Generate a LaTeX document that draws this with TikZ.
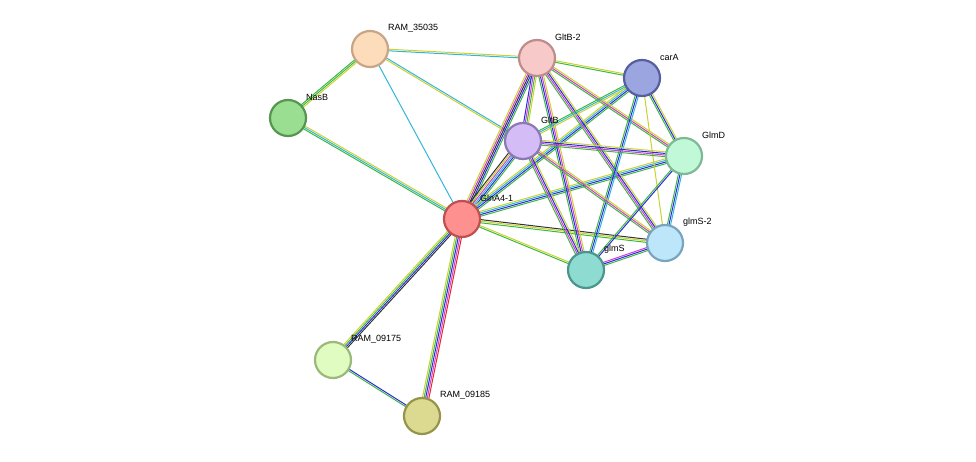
\documentclass[tikz,border=0pt]{standalone}
\usepackage{fontspec}
\setmainfont{Liberation Sans}
\usetikzlibrary{calc}
\definecolor{eg}{HTML}{3DB83D}
\definecolor{eb}{HTML}{2A2AE0}
\definecolor{ec}{HTML}{33B5DB}
\definecolor{em}{HTML}{D23DD2}
\definecolor{ey}{HTML}{C9D22E}
\definecolor{ek}{HTML}{333333}
\definecolor{er}{HTML}{E52A2A}
\tikzset{
  prot/.style={circle, minimum size=36pt, inner sep=0, line width=2.2pt},
  lbl/.style={font=\fontsize{9}{10}\selectfont, anchor=west, inner sep=0}
}
% edge made of parallel coloured lines
\newcommand\edge[3]{%
  \def\nlines{0}%
  \foreach \c in {#3}{\xdef\nlines{\the\numexpr\nlines+1\relax}}%
  \foreach \c [count=\i] in {#3}{%
    \pgfmathsetmacro\off{(\i-(\nlines+1)/2)*1.6}%
    \draw[\c, line width=1pt] ($(#1)!\off pt!90:(#2)$) -- ($(#2)!\off pt!-90:(#1)$);
  }%
}
\begin{document}
\begin{tikzpicture}[x=1pt,y=-1pt]
\useasboundingbox (0,0) rectangle (976,462);
% positions
\coordinate (r35) at (370,49);
\coordinate (gb2) at (537,58);
\coordinate (cara) at (642,78);
\coordinate (nasb) at (288,118);
\coordinate (gb) at (523,141);
\coordinate (glmd) at (684,156);
\coordinate (gln) at (462,219);
\coordinate (gs2) at (665,243);
\coordinate (gs) at (586,270);
\coordinate (r175) at (333,360);
\coordinate (r185) at (422,416);
% edges
\edge{r35}{nasb}{eg,eg,ey}
\edge{r35}{gb2}{ec,ey}
\edge{r35}{gb}{ey,ec}
\edge{r35}{gln}{ec}
\edge{nasb}{gln}{eg,ec,ey}
\edge{gln}{gb2}{eg,eb,ek,em,ey}
\edge{gln}{gb}{eg,eb,ec,em,ey,ek}
\edge{gln}{cara}{eg,eb,ec,ey}
\edge{gln}{glmd}{eg,eb,ec,ey}
\edge{gln}{gs2}{eg,ey,ek}
\edge{gln}{gs}{eg,ey}
\edge{gln}{r175}{ey,eg,eb,ek}
\edge{gln}{r185}{ey,eg,eb,em,er}
\edge{r175}{r185}{eg,eb}
\edge{gb2}{cara}{eg,ey}
\edge{gb2}{gb}{eb,em,eg,ey}
\edge{gb2}{glmd}{eg,em,ey}
\edge{gb2}{gs2}{eg,em,eb,ey}
\edge{gb2}{gs}{eg,eb,em,ey}
\edge{cara}{gb}{eg,ec,ey}
\edge{cara}{glmd}{eg,eb,ey}
\edge{cara}{gs}{eg,eb,ec}
\edge{cara}{gs2}{ey}
\edge{gb}{glmd}{eg,em,eb,ey}
\edge{gb}{gs}{eg,em,eb,ey}
\edge{gb}{gs2}{eg,em,ey}
\edge{glmd}{gs2}{eg,eb,ec}
\edge{glmd}{gs}{eg,eb}
\edge{gs}{gs2}{eg,eb,em}
% proteins
\node[prot, fill={rgb,255:red,253;green,220;blue,187}, draw={rgb,255:red,200;green,165;blue,135}] (n-r35) at (r35) {};
\node[prot, fill={rgb,255:red,248;green,201;blue,201}, draw={rgb,255:red,190;green,140;blue,140}] (n-gb2) at (gb2) {};
\node[prot, fill={rgb,255:red,155;green,165;blue,224}, draw={rgb,255:red,85;green,95;blue,160}] (n-cara) at (cara) {};
\node[prot, fill={rgb,255:red,154;green,222;blue,146}, draw={rgb,255:red,85;green,150;blue,80}] (n-nasb) at (nasb) {};
\node[prot, fill={rgb,255:red,212;green,189;blue,247}, draw={rgb,255:red,140;green,120;blue,180}] (n-gb) at (gb) {};
\node[prot, fill={rgb,255:red,193;green,249;blue,216}, draw={rgb,255:red,125;green,185;blue,150}] (n-glmd) at (glmd) {};
\node[prot, fill={rgb,255:red,255;green,144;blue,144}, draw={rgb,255:red,190;green,80;blue,80}] (n-gln) at (gln) {};
\node[prot, fill={rgb,255:red,190;green,230;blue,250}, draw={rgb,255:red,120;green,165;blue,190}] (n-gs2) at (gs2) {};
\node[prot, fill={rgb,255:red,142;green,219;blue,210}, draw={rgb,255:red,75;green,150;blue,140}] (n-gs) at (gs) {};
\node[prot, fill={rgb,255:red,224;green,252;blue,192}, draw={rgb,255:red,155;green,185;blue,120}] (n-r175) at (r175) {};
\node[prot, fill={rgb,255:red,220;green,218;blue,144}, draw={rgb,255:red,150;green,148;blue,75}] (n-r185) at (r185) {};
% labels
\node[lbl] (l-r35) at ($(r35)+(18,-21)$) {RAM\_35035};
\node[lbl] (l-gb2) at ($(gb2)+(18,-21)$) {GltB-2};
\node[lbl] (l-cara) at ($(cara)+(18,-21)$) {carA};
\node[lbl] (l-nasb) at ($(nasb)+(18,-21)$) {NasB};
\node[lbl] (l-gb) at ($(gb)+(18,-21)$) {GltB};
\node[lbl] (l-glmd) at ($(glmd)+(18,-21)$) {GlmD};
\node[lbl] (l-gln) at ($(gln)+(18,-21)$) {GlnA4-1};
\node[lbl] (l-gs2) at ($(gs2)+(18,-21)$) {glmS-2};
\node[lbl] (l-gs) at ($(gs)+(18,-21)$) {glmS};
\node[lbl] (l-r175) at ($(r175)+(18,-21)$) {RAM\_09175};
\node[lbl] (l-r185) at ($(r185)+(18,-21)$) {RAM\_09185};
\end{tikzpicture}
\end{document}
